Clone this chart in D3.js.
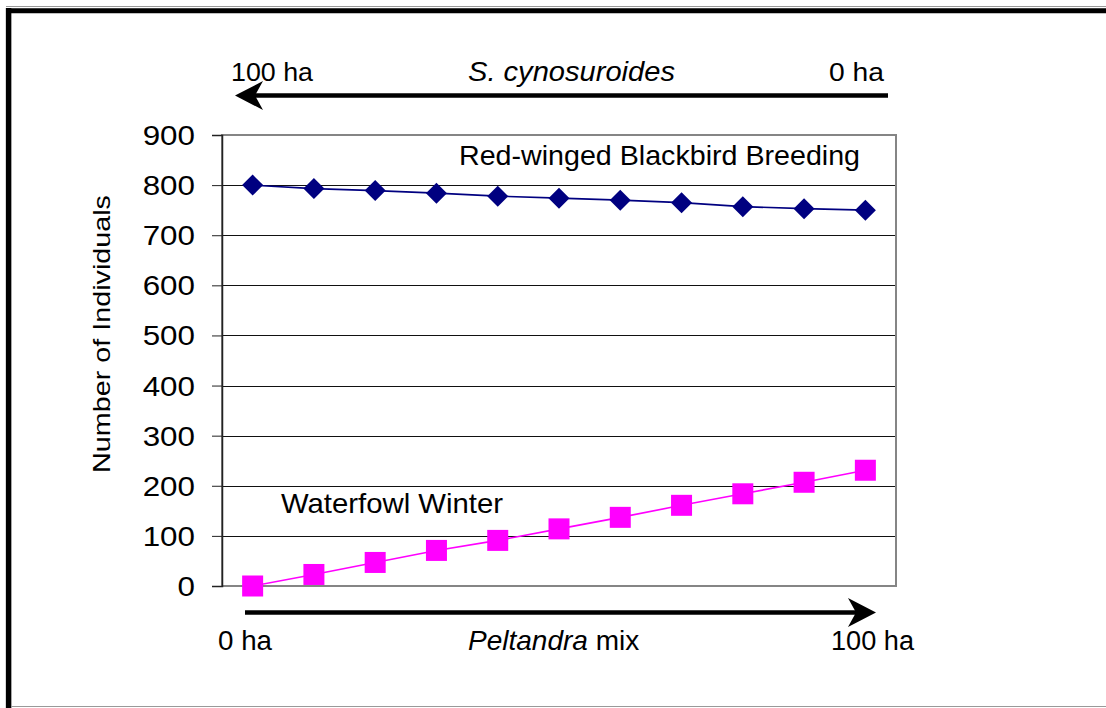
<!DOCTYPE html>
<html>
<head>
<meta charset="utf-8">
<script src="https://cdn.jsdelivr.net/npm/d3@7"></script>
<style>
  html, body { margin: 0; padding: 0; background: #fff; }
  svg { display: block; font-family: "Liberation Sans", Arial, sans-serif; }
</style>
</head>
<body>
<svg id="chart"></svg>
<script>
const width = 1106;
const height = 708;

// Peltandra mix area (ha) along the x axis
const peltandraHa = [0, 10, 20, 30, 40, 50, 60, 70, 80, 90, 100];
const blackbirdBreeding = [800, 793, 789, 784, 778, 774, 770, 765, 757, 753, 750];
const waterfowlWinter = [0, 23, 47, 71, 91, 114, 137, 161, 184, 207, 231];
const yTicks = [0, 100, 200, 300, 400, 500, 600, 700, 800, 900];

const plot = { left: 222, right: 896, top: 135, bottom: 586 };

const svg = d3.select("#chart").attr("width", width).attr("height", height);

// outer frame
svg.append("line").attr("x1", 6).attr("x2", width).attr("y1", 6.5).attr("y2", 6.5)
  .attr("stroke", "#999").attr("stroke-width", 1);
svg.append("line").attr("x1", 6).attr("x2", width).attr("y1", 10.8).attr("y2", 10.8)
  .attr("stroke", "#000").attr("stroke-width", 5);
svg.append("line").attr("x1", 8.6).attr("x2", 8.6).attr("y1", 8).attr("y2", height)
  .attr("stroke", "#000").attr("stroke-width", 5.5);
svg.append("line").attr("x1", 11).attr("x2", width).attr("y1", 706.5).attr("y2", 706.5)
  .attr("stroke", "#999").attr("stroke-width", 1.2);

const x = d3.scaleBand().domain(peltandraHa).range([plot.left, plot.right]);
const y = d3.scaleLinear().domain([0, 900]).range([plot.bottom, plot.top]);
const cx = d => x(d) + x.bandwidth() / 2;

// gridlines
svg.append("g").selectAll("line").data(yTicks.filter(t => t > 0 && t < 900)).join("line")
  .attr("x1", plot.left).attr("x2", plot.right)
  .attr("y1", d => Math.round(y(d)) + 0.5).attr("y2", d => Math.round(y(d)) + 0.5)
  .attr("stroke", "#111").attr("stroke-width", 1);

// plot area border
svg.append("rect")
  .attr("x", plot.left).attr("y", plot.top)
  .attr("width", plot.right - plot.left).attr("height", plot.bottom - plot.top)
  .attr("fill", "none").attr("stroke", "#858585").attr("stroke-width", 2);

// y axis
const yAxis = svg.append("g").attr("transform", `translate(${plot.left},0)`)
  .call(d3.axisLeft(y).tickValues(yTicks).tickSize(10).tickPadding(0).tickFormat(d3.format("d")));
yAxis.select(".domain").attr("stroke", "#222").attr("stroke-width", 1.5);
yAxis.selectAll(".tick line").attr("stroke", "#222");
yAxis.selectAll(".tick text").remove();
svg.append("g").selectAll("text").data(yTicks).join("text")
  .attr("transform", d => `translate(195,${y(d) + 10}) scale(1.12,1)`)
  .attr("text-anchor", "end")
  .attr("font-size", 28)
  .attr("fill", "#000")
  .text(d => d);

// y axis title
svg.append("text")
  .attr("transform", "translate(110,473) rotate(-90)")
  .attr("font-size", 24)
  .attr("textLength", 278).attr("lengthAdjust", "spacingAndGlyphs")
  .text("Number of Individuals");

// series
const line = d3.line().x((d, i) => cx(peltandraHa[i])).y(d => y(d));

svg.append("path").datum(blackbirdBreeding)
  .attr("d", line).attr("fill", "none").attr("stroke", "#000080").attr("stroke-width", 1.6);
svg.append("path").datum(waterfowlWinter)
  .attr("d", line).attr("fill", "none").attr("stroke", "#ff00ff").attr("stroke-width", 1.6);

svg.append("g").selectAll("path").data(blackbirdBreeding).join("path")
  .attr("transform", (d, i) => `translate(${cx(peltandraHa[i])},${y(d)})`)
  .attr("d", "M0,-10.5L10.5,0L0,10.5L-10.5,0Z")
  .attr("fill", "#000080");

svg.append("g").selectAll("rect").data(waterfowlWinter).join("rect")
  .attr("x", (d, i) => cx(peltandraHa[i]) - 10.5)
  .attr("y", d => y(d) - 10.5)
  .attr("width", 21).attr("height", 21)
  .attr("fill", "#ff00ff");

// series labels
svg.append("text").attr("x", 459).attr("y", 165).attr("font-size", 28)
  .attr("textLength", 401).attr("lengthAdjust", "spacingAndGlyphs")
  .text("Red-winged Blackbird Breeding");
svg.append("text").attr("x", 281).attr("y", 513).attr("font-size", 28)
  .attr("textLength", 222).attr("lengthAdjust", "spacingAndGlyphs")
  .text("Waterfowl Winter");

// top arrow: S. cynosuroides
svg.append("line").attr("x1", 252).attr("x2", 888).attr("y1", 95.5).attr("y2", 95.5)
  .attr("stroke", "#000").attr("stroke-width", 4.5);
svg.append("path").attr("d", "M235,95.5L263,81L255,95.5L263,110Z").attr("fill", "#000");
svg.append("text").attr("x", 231).attr("y", 81).attr("font-size", 26)
  .attr("textLength", 82).attr("lengthAdjust", "spacingAndGlyphs").text("100 ha");
svg.append("text").attr("x", 829).attr("y", 81).attr("font-size", 26)
  .attr("textLength", 55).attr("lengthAdjust", "spacingAndGlyphs").text("0 ha");
svg.append("text").attr("x", 468).attr("y", 81).attr("font-size", 27)
  .attr("font-style", "italic")
  .attr("textLength", 207).attr("lengthAdjust", "spacingAndGlyphs").text("S. cynosuroides");

// bottom arrow: Peltandra mix
svg.append("line").attr("x1", 245).attr("x2", 860).attr("y1", 612.5).attr("y2", 612.5)
  .attr("stroke", "#000").attr("stroke-width", 4.5);
svg.append("path").attr("d", "M876,612.5L848,598L856,612.5L848,627Z").attr("fill", "#000");
svg.append("text").attr("x", 218).attr("y", 650).attr("font-size", 27)
  .attr("textLength", 54).attr("lengthAdjust", "spacingAndGlyphs").text("0 ha");
svg.append("text").attr("x", 831).attr("y", 650).attr("font-size", 27)
  .attr("textLength", 83).attr("lengthAdjust", "spacingAndGlyphs").text("100 ha");
const pel = svg.append("text").attr("x", 468).attr("y", 650).attr("font-size", 28);
pel.append("tspan").attr("font-style", "italic").text("Peltandra");
pel.append("tspan").text(" mix");
</script>
</body>
</html>
